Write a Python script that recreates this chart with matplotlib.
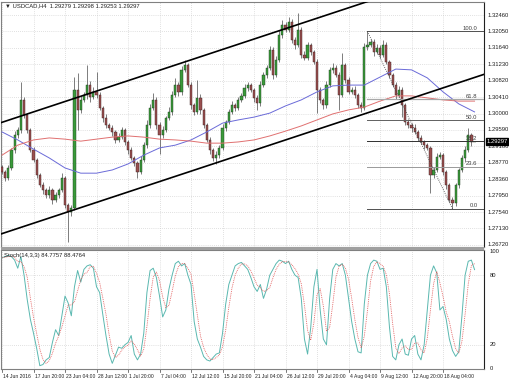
import numpy as np
import pandas as pd
import matplotlib
matplotlib.use('Agg')
import matplotlib.pyplot as plt
from matplotlib import transforms
from matplotlib.patches import Rectangle

# USDCAD H4, one entry = one (merged) bar
first_open = 1.2866
closes = [
    1.2854, 1.2839, 1.2864, 1.2909, 1.2946, 1.2959, 1.3034, 1.2996, 1.2959, 1.2909,
    1.2884, 1.2846, 1.2821, 1.2809, 1.2796, 1.2809, 1.2784, 1.2796, 1.2809, 1.2839,
    1.2771, 1.2754, 1.2764, 1.3059, 1.3009, 1.3034, 1.3046, 1.3071, 1.3041, 1.3054,
    1.3046, 1.3014, 1.2989, 1.2971, 1.2964, 1.2954, 1.2934, 1.2941, 1.2959, 1.2929,
    1.2909, 1.2889, 1.2876, 1.2854, 1.2884, 1.2921, 1.2971, 1.3014, 1.3034, 1.2971,
    1.2946, 1.2959, 1.2989, 1.3004, 1.3046, 1.3071, 1.3054, 1.3109, 1.3121, 1.3071,
    1.3021, 1.3004, 1.3039, 1.3009, 1.2971, 1.2934, 1.2909, 1.2889, 1.2896, 1.2914,
    1.2964, 1.2979, 1.3004, 1.3021, 1.3014, 1.3034, 1.3044, 1.3064, 1.3071, 1.3059,
    1.3039, 1.3026, 1.3071, 1.3096, 1.3114, 1.3159, 1.3096, 1.3134, 1.3196, 1.3221,
    1.3209, 1.3229, 1.3184, 1.3171, 1.3209, 1.3146, 1.3139, 1.3171, 1.3154, 1.3129,
    1.3059, 1.3034, 1.3021, 1.3071, 1.3109, 1.3114, 1.3096, 1.3046, 1.3121, 1.3084,
    1.3054, 1.3059, 1.3046, 1.3021, 1.3014, 1.3166, 1.3171, 1.3179, 1.3154, 1.3164,
    1.3146, 1.3171, 1.3129, 1.3096, 1.3071, 1.3046, 1.3059, 1.3021, 1.2979, 1.2971,
    1.2964, 1.2954, 1.2939, 1.2929, 1.2921, 1.2914, 1.2846, 1.2859, 1.2891, 1.2896,
    1.2854, 1.2821, 1.2784, 1.2776, 1.2821, 1.2859, 1.2889, 1.2909, 1.2946, 1.2928,
    1.29297]
# wick lengths in pips above / below the body
up_wick = [
    6, 5, 8, 6, 10, 8, 45, 8, 5, 6, 8, 5, 6, 8, 5, 10, 4, 8, 6, 12,
    5, 6, 8, 32, 42, 10, 8, 50, 10, 12, 50, 8, 6, 10, 5, 8, 6, 10, 8, 6,
    5, 8, 6, 5, 10, 8, 12, 10, 17, 6, 8, 10, 6, 12, 10, 18, 8, 10, 13, 6,
    8, 5, 45, 10, 6, 5, 8, 6, 10, 8, 10, 6, 8, 10, 6, 8, 6, 10, 8, 6,
    5, 8, 10, 8, 6, 10, 8, 10, 12, 13, 8, 12, 6, 8, 42, 6, 10, 8, 6, 5,
    6, 8, 5, 10, 8, 12, 6, 8, 30, 6, 8, 6, 10, 5, 8, 10, 34, 8, 6, 10,
    6, 12, 8, 5, 6, 8, 10, 6, 5, 8, 6, 10, 6, 8, 5, 6, 5, 8, 10, 8,
    6, 5, 6, 8, 5, 6, 8, 10, 18, 6, 0]
dn_wick = [
    5, 8, 6, 5, 8, 6, 8, 6, 8, 5, 6, 8, 5, 10, 8, 6, 10, 5, 8, 6,
    8, 75, 10, 6, 50, 8, 6, 10, 12, 6, 8, 6, 10, 8, 6, 10, 8, 6, 5, 8,
    10, 6, 8, 15, 6, 5, 8, 6, 5, 10, 47, 8, 6, 5, 8, 6, 10, 8, 5, 6,
    10, 8, 6, 10, 8, 6, 10, 8, 15, 6, 5, 8, 6, 5, 8, 6, 5, 6, 8, 6,
    10, 17, 6, 5, 8, 6, 10, 6, 5, 8, 6, 5, 8, 10, 6, 8, 6, 5, 8, 6,
    58, 8, 10, 6, 5, 8, 6, 37, 6, 8, 6, 5, 8, 6, 10, 6, 8, 6, 10, 6,
    8, 5, 6, 8, 6, 10, 6, 30, 8, 6, 10, 6, 8, 6, 10, 6, 45, 8, 6, 5,
    8, 10, 6, 14, 6, 8, 6, 10, 6, 8, 0.3]

# moving averages, read every 5 bars
ma_bars = list(range(0, 151, 5))
ma_blue = [1.2954, 1.2934, 1.2911, 1.2889, 1.2864, 1.2851, 1.2851, 1.2859, 1.2874, 1.2896,
           1.2914, 1.2921, 1.2934, 1.2954, 1.2976, 1.2984, 1.2991, 1.3001, 1.3019, 1.3034,
           1.3054, 1.3069, 1.3071, 1.3071, 1.3091, 1.3111, 1.3109, 1.3089, 1.3054, 1.3024, 1.3004]
ma_red = [1.2896, 1.2921, 1.2934, 1.2939, 1.2936, 1.2931, 1.2936, 1.2941, 1.2944, 1.2941,
          1.2936, 1.2934, 1.2931, 1.2926, 1.2926, 1.2929, 1.2934, 1.2944, 1.2956, 1.2969,
          1.2984, 1.2999, 1.3009, 1.3016, 1.3031, 1.3044, 1.3044, 1.3039, 1.3034, 1.3031, 1.3031]

# Stochastic %K
stoch_k = [
    95, 96, 97, 96, 93, 86, 96, 80, 59, 42, 30, 17, 2, 3, 7, 9, 22, 33, 28, 45,
    62, 56, 45, 70, 84, 74, 85, 88, 89, 86, 70, 65, 46, 28, 12, 4, 11, 18, 17, 20,
    22, 28, 12, 7, 12, 30, 65, 84, 86, 78, 62, 44, 50, 68, 80, 90, 92, 88, 90, 80,
    72, 40, 25, 18, 10, 7, 6, 9, 12, 13, 30, 55, 72, 80, 88, 90, 91, 88, 85, 78,
    70, 66, 72, 60, 68, 80, 85, 90, 93, 92, 90, 92, 85, 80, 78, 60, 25, 12, 35, 70,
    85, 50, 25, 20, 60, 85, 90, 88, 90, 80, 60, 40, 25, 14, 13, 55, 80, 90, 93, 92,
    85, 86, 70, 35, 10, 7, 20, 25, 12, 11, 25, 28, 12, 7, 20, 50, 80, 88, 82, 50,
    53, 42, 25, 15, 10, 14, 45, 80, 92, 93, 84.78]

# trend channel anchors (bar, price)
chan_x = [0, 100]
chan_upper = [1.2978, 1.3238]
chan_lower = [1.2700, 1.2960]

fib_bar = [116, 143]
fib_hi, fib_lo = 1.3205, 1.2762
fib_levels = [0.0, 23.6, 38.2, 50.0, 61.8, 100.0]

price_levels = [1.26720 + 0.0041 * k for k in range(15)]
time_labels = ["14 Jun 2016", "17 Jun 20:00", "23 Jun 04:00", "28 Jun 12:00", "1 Jul 20:00",
               "7 Jul 04:00", "12 Jul 12:00", "15 Jul 20:00", "21 Jul 04:00", "26 Jul 12:00",
               "29 Jul 20:00", "4 Aug 04:00", "9 Aug 12:00", "12 Aug 20:00", "18 Aug 04:00"]
time_bars = list(range(0, 150, 10))

plt.rcParams['font.family'] = ['Liberation Sans', 'DejaVu Sans']
FS = 4.2
W, H = 510, 382


def frac(l, t, r, b):
    return [l / W, 1 - b / H, (r - l) / W, (b - t) / H]


fig = plt.figure(figsize=(5.1, 3.82), dpi=100)
fig.patch.set_facecolor('white')
ax = fig.add_axes(frac(1, 2, 484, 247))
ax2 = fig.add_axes(frac(1, 250, 484, 369))
xmax = 153.0
for a in (ax, ax2):
    a.set_xlim(-0.32, xmax)
    a.set_xticks(time_bars)
    a.tick_params(length=0, labelbottom=False, labelleft=False)
    a.grid(True, color='#c4c4c4', ls=(0, (1, 2)), lw=0.5)
    for s in a.spines.values():
        s.set_color('#808080')
        s.set_linewidth(0.8)
    a.spines['right'].set_color('#202020')
ax.set_ylim(1.26666, 1.32785)
ax.set_yticks(price_levels)
ax2.set_ylim(-0.86, 101.7)
ax2.set_yticks([20, 80])

# candles
x = np.arange(len(closes))
c = np.array(closes)
o = np.r_[first_open, c[:-1]]
hi = np.maximum(o, c) + np.array(up_wick) * 1e-4
lo = np.minimum(o, c) - np.array(dn_wick) * 1e-4
bull = c >= o
ax.vlines(x, lo, hi, color='#4a4a4a', lw=0.5, zorder=2)
ax.bar(x[bull], np.maximum((c - o)[bull], 0.00004), bottom=o[bull], width=0.7,
       color='#3a9a3a', edgecolor='#1e3a1e', lw=0.3, zorder=3)
ax.bar(x[~bull], (o - c)[~bull], bottom=c[~bull], width=0.7,
       color='#9a5050', edgecolor='#3a1e1e', lw=0.3, zorder=3)

ax.plot(ma_bars, ma_blue, color='#6a6ad8', lw=0.7, zorder=4)
ax.plot(ma_bars, ma_red, color='#e07070', lw=0.7, zorder=4)

# channel lines extended to the right edge
slope = (chan_upper[1] - chan_upper[0]) / (chan_x[1] - chan_x[0])
xs = np.array([-1, xmax])
ax.plot(xs, chan_upper[0] + slope * (xs - chan_x[0]), color='black', lw=1.2, zorder=5)
ax.plot(xs, chan_lower[0] + slope * (xs - chan_x[0]), color='black', lw=1.2, zorder=5)

# fibonacci
fib_cols = {0.0: '#505050', 23.6: '#999999', 38.2: '#303030', 50.0: '#606060',
            61.8: '#a8a8a8', 100.0: '#505050'}
for lv in fib_levels:
    p = fib_lo + (fib_hi - fib_lo) * lv / 100
    ax.plot([fib_bar[0], xmax], [p, p], color=fib_cols[lv], lw=0.9 if lv == 61.8 else 0.7, zorder=4)
    ax.text(150.9, p + 0.00012, '%.1f' % lv, ha='right', va='bottom', fontsize=FS, color='#404040', zorder=6)
ax.plot(fib_bar, [fib_hi, fib_lo], color='#404040', lw=0.6, ls=(0, (1, 1.5)), zorder=4)

# right price scale
tr = transforms.blended_transform_factory(ax.transAxes, ax.transData)
for p in price_levels:
    ax.text(1.008, p, '%.5f' % p, transform=tr, ha='left', va='center', fontsize=FS,
            color='#202020', clip_on=False)
ax.text(1.005, closes[-1], '%.5f' % closes[-1], transform=tr, ha='left', va='center', fontsize=FS,
        color='white', clip_on=False, zorder=10,
        bbox=dict(facecolor='black', edgecolor='black', pad=0.6))

ax.text(0.008, 0.983, '\u25bc USDCAD,H4  1.29279 1.29298 1.29253 1.29297', transform=ax.transAxes,
        ha='left', va='center', fontsize=FS, color='#202020')

# stochastic panel
k = pd.Series(stoch_k, dtype=float)
d = k.rolling(3, min_periods=1).mean()
ax2.plot(x, k, color='#5ab8b0', lw=0.7, zorder=3)
ax2.plot(x, d, color='#e05050', lw=0.6, ls=(0, (1, 1.2)), zorder=3)
ax2.text(0.006, 0.95, 'Stoch(14,3,3) 84.7757 88.4764', transform=ax2.transAxes,
         ha='left', va='center', fontsize=FS, color='#202020')
tr2 = transforms.blended_transform_factory(ax2.transAxes, ax2.transData)
for v in [100, 80, 20, 0]:
    ax2.text(1.012, v, str(v), transform=tr2, ha='left', va='center', fontsize=FS,
             color='#202020', clip_on=False)

trx = transforms.blended_transform_factory(ax2.transData, ax2.transAxes)
for b, lab in zip(time_bars, time_labels):
    ax2.text(b + 0.4, -0.062, lab, transform=trx, ha='left', va='center', fontsize=3.6,
             color='#202020', clip_on=False)
    ax2.plot([b, b], [0, -0.025], transform=trx, color='#404040', lw=0.5, clip_on=False)

fig.patches.append(Rectangle((1 / W, 1 - 250 / H), 483 / W, 3 / H, transform=fig.transFigure,
                             facecolor='#a0a0a0', edgecolor='none'))

fig.savefig('out.png', dpi=100)
